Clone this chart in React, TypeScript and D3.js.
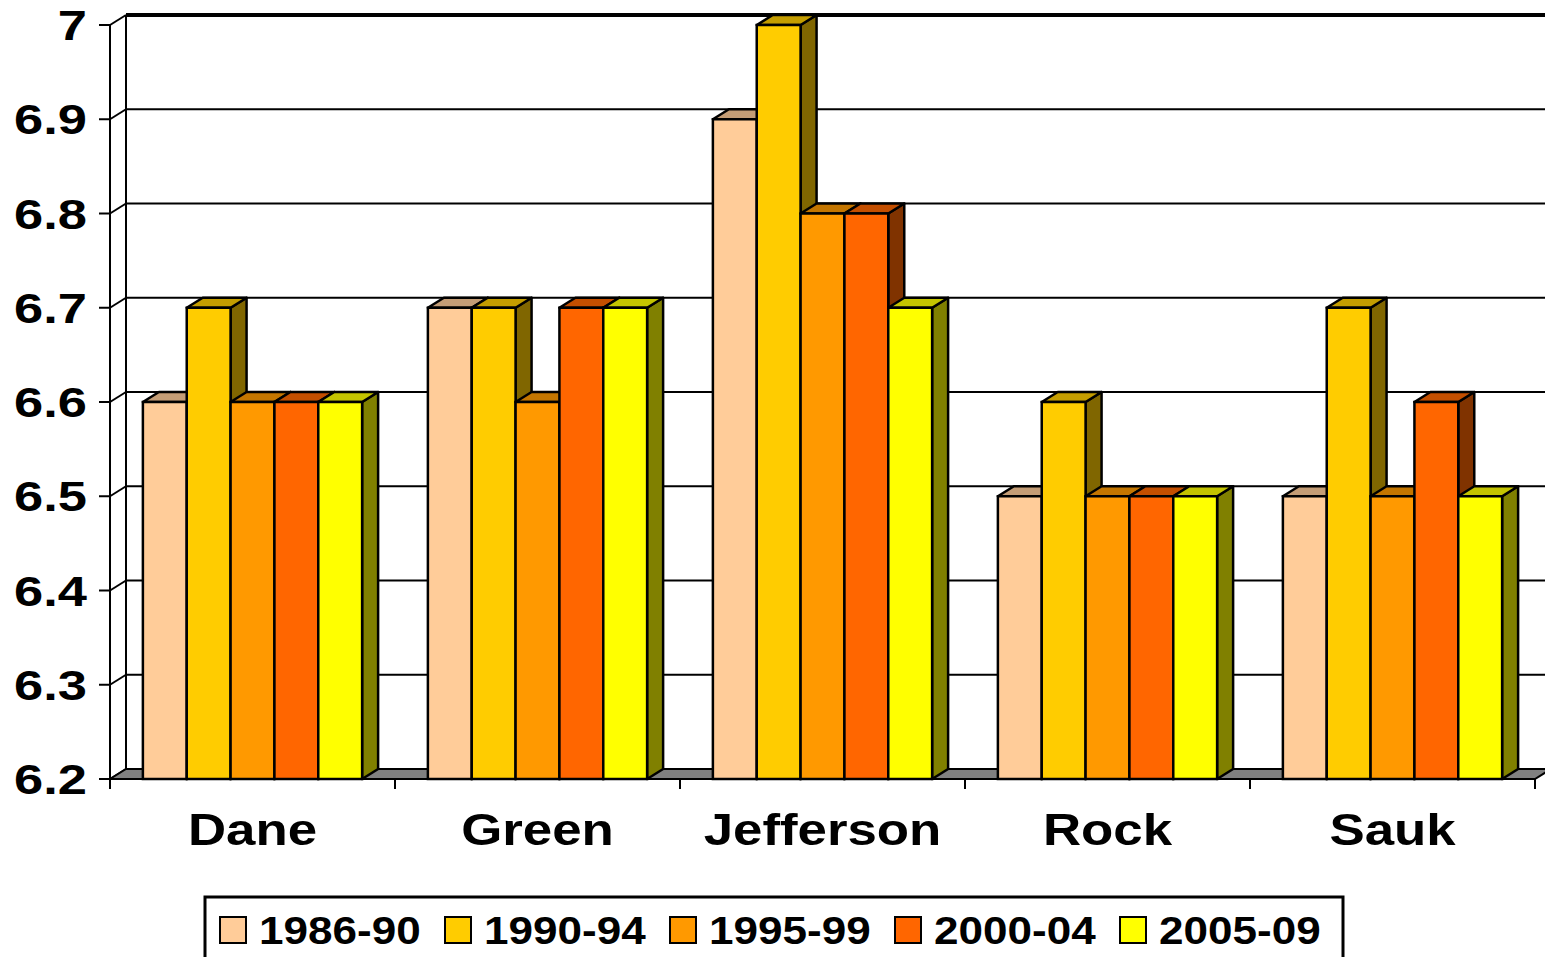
import React from 'react';
import * as d3 from 'd3';

const categories = ['Dane', 'Green', 'Jefferson', 'Rock', 'Sauk'];
const seriesNames = ['1986-90', '1990-94', '1995-99', '2000-04', '2005-09'];
const seriesColors = ['#FFCC99', '#FFCC00', '#FF9900', '#FF6600', '#FFFF00'];
const values1986_90 = [6.6, 6.7, 6.9, 6.5, 6.5];
const values1990_94 = [6.7, 6.7, 7.0, 6.6, 6.7];
const values1995_99 = [6.6, 6.6, 6.8, 6.5, 6.5];
const values2000_04 = [6.6, 6.7, 6.8, 6.5, 6.6];
const values2005_09 = [6.6, 6.7, 6.7, 6.5, 6.5];
const seriesValues = [values1986_90, values1990_94, values1995_99, values2000_04, values2005_09];
const yTicks = [6.2, 6.3, 6.4, 6.5, 6.6, 6.7, 6.8, 6.9, 7];

const W = 1545;
const H = 957;
const X0 = 110;
const X1 = 1535;
const YTOP = 25;
const YBOT = 779;
const DX = 16;
const DY = 10;
const FONT = '"Liberation Sans", Arial, sans-serif';

function shade(c: string, k: number) {
  const r = d3.rgb(c);
  return d3.rgb(r.r * k, r.g * k, r.b * k).formatHex();
}

export default function App() {
  const y = d3.scaleLinear().domain([6.2, 7]).range([YBOT, YTOP]);
  const x = d3.scaleBand<string>().domain(categories).range([X0, X1]).paddingInner(0).paddingOuter(0);
  const bw = x.bandwidth();
  const barW = bw / 6.5;
  const gap = barW * 1.5;
  const xs = d3.scaleBand<string>().domain(seriesNames).range([gap / 2, bw - gap / 2]).padding(0);
  const fmt = d3.format('~g');

  const bars: React.ReactNode[] = [];
  categories.forEach((cat, ci) => {
    seriesNames.forEach((s, si) => {
      const v = seriesValues[si][ci];
      const bx = (x(cat) as number) + (xs(s) as number);
      const w = xs.bandwidth();
      const yv = y(v);
      const col = seriesColors[si];
      const top = `M${bx},${yv}L${bx + DX},${yv - DY}L${bx + w + DX},${yv - DY}L${bx + w},${yv}Z`;
      const side = `M${bx + w},${yv}L${bx + w + DX},${yv - DY}L${bx + w + DX},${YBOT - DY}L${bx + w},${YBOT}Z`;
      bars.push(
        <g key={cat + s}>
          <path d={side} fill={shade(col, 0.5)} stroke="#000" strokeWidth={2.5} strokeLinejoin="round" />
          <path d={top} fill={shade(col, 0.77)} stroke="#000" strokeWidth={2.5} strokeLinejoin="round" />
          <rect x={bx} y={yv} width={w} height={YBOT - yv} fill={col} stroke="#000" strokeWidth={2.5} />
        </g>
      );
    });
  });

  const legendX0 = 220;
  const legendStep = 225;

  return (
    <svg width={W} height={H} style={{ position: 'absolute', left: 0, top: 0, background: '#fff' }}>
      <path d={`M${X0},${YTOP}L${X0 + DX},${YTOP - DY}L${X0 + DX},${YBOT - DY}L${X0},${YBOT}Z`} fill="#fff" stroke="none" />
      {yTicks.map((t) => (
        <line key={'g' + t} x1={X0 + DX} x2={W} y1={y(t) - DY} y2={y(t) - DY} stroke="#000" strokeWidth={t === 7 ? 4 : 2} />
      ))}
      {yTicks.map((t) => (
        <line key={'d' + t} x1={X0} x2={X0 + DX} y1={y(t)} y2={y(t) - DY} stroke="#000" strokeWidth={2} />
      ))}
      <line x1={X0 + DX} x2={X0 + DX} y1={YTOP - DY} y2={YBOT - DY} stroke="#000" strokeWidth={2} />
      <path d={`M${X0},${YBOT}L${X0 + DX},${YBOT - DY}L${X1 + DX},${YBOT - DY}L${X1},${YBOT}Z`} fill="#808080" stroke="#000" strokeWidth={2} />
      {bars}
      <line x1={X0} x2={X0} y1={YTOP} y2={YBOT} stroke="#000" strokeWidth={2} />
      <line x1={X0} x2={X1} y1={YBOT} y2={YBOT} stroke="#000" strokeWidth={2} />
      {yTicks.map((t) => (
        <line key={'t' + t} x1={X0 - 11} x2={X0} y1={y(t)} y2={y(t)} stroke="#000" strokeWidth={2} />
      ))}
      {categories.concat(['_end']).map((c, i) => {
        const xx = X0 + i * bw;
        return <line key={'xt' + i} x1={xx} x2={xx} y1={YBOT} y2={YBOT + 10} stroke="#000" strokeWidth={2} />;
      })}
      {yTicks.map((t) => (
        <text key={'yl' + t} transform={`translate(87,${y(t) + 15}) scale(1.22,1)`} textAnchor="end" fontFamily={FONT} fontWeight="bold" fontSize={43} fill="#000">
          {fmt(t)}
        </text>
      ))}
      {categories.map((c) => (
        <text key={'cl' + c} transform={`translate(${(x(c) as number) + bw / 2},845) scale(1.2,1)`} textAnchor="middle" fontFamily={FONT} fontWeight="bold" fontSize={44} fill="#000">
          {c}
        </text>
      ))}
      <rect x={205} y={897} width={1138} height={80} fill="#fff" stroke="#000" strokeWidth={3} />
      {seriesNames.map((s, i) => {
        const lx = legendX0 + i * legendStep;
        return (
          <g key={'lg' + s}>
            <rect x={lx} y={917} width={26} height={26} fill={seriesColors[i]} stroke="#000" strokeWidth={2} />
            <text transform={`translate(${lx + 39},944) scale(1.13,1)`} fontFamily={FONT} fontWeight="bold" fontSize={39} fill="#000">
              {s}
            </text>
          </g>
        );
      })}
    </svg>
  );
}
